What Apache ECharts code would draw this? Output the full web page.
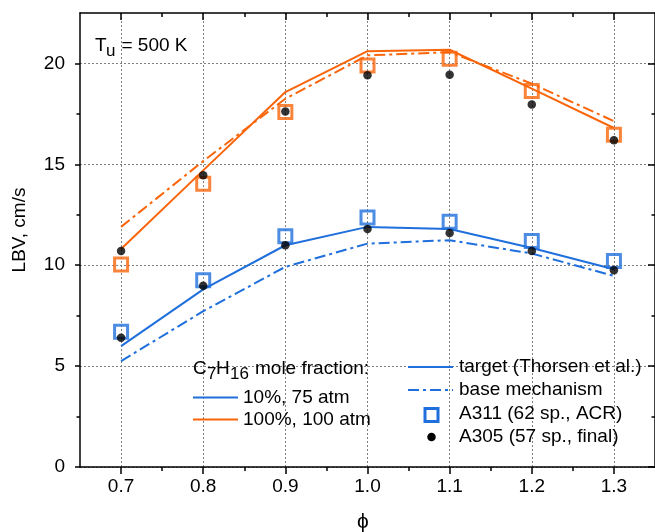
<!DOCTYPE html>
<html><head><meta charset="utf-8">
<script src="https://cdn.jsdelivr.net/npm/echarts@6/dist/echarts.min.js"></script>
<style>html,body{margin:0;padding:0;background:#fff}#c{width:655px;height:532px}</style>
</head><body><div id="c"></div>
<script>
// ---- data ----
const phi = [0.7, 0.8, 0.9, 1.0, 1.1, 1.2, 1.3];
const xTicks = [0.7, 0.8, 0.9, 1.0, 1.1, 1.2, 1.3];
const yTicks = [0, 5, 10, 15, 20];
const blueTarget   = [5.99, 8.80, 10.99, 11.90, 11.80, 10.85, 9.80];
const blueBase     = [5.25, 7.72, 9.92, 11.07, 11.24, 10.58, 9.47];
const blueA311     = [6.70, 9.26, 11.44, 12.36, 12.15, 11.20, 10.21];
const blueA305     = [6.40, 8.98, 10.99, 11.80, 11.60, 10.71, 9.75];
const orangeTarget = [10.80, 14.70, 18.58, 20.61, 20.68, 18.75, 16.80];
const orangeBase   = [11.90, 15.16, 18.25, 20.40, 20.56, 19.00, 17.14];
const orangeA311   = [10.03, 14.04, 17.59, 19.90, 20.23, 18.63, 16.47];
const orangeA305   = [10.71, 14.46, 17.62, 19.41, 19.44, 17.97, 16.19];

const BLUE = '#1F6FDC';
const ORANGE = '#FA650A';
const FONT = "'Liberation Sans', Arial, sans-serif";
const DASHDOT = [11, 4, 3, 4];

const pts = arr => phi.map((x, i) => [x, arr[i]]);
const axisLine = { show: true, onZero: false, lineStyle: { color: '#000', width: 1.5 } };
const tickLS = { color: '#000', width: 1.5 };
const xFmt = v => Math.abs(v * 10 - Math.round(v * 10)) < 1e-6 ? v.toFixed(1) : '';
const yFmt = v => (Math.abs(v / 5 - Math.round(v / 5)) < 1e-6 ? String(v) : '');

function lineSeries(name, arr, color, type) {
  return { name, type: 'line', data: pts(arr), symbol: 'none', showSymbol: false, z: 2,
    lineStyle: { color, width: 2, type }, itemStyle: { color }, animation: false };
}
function squareSeries(name, arr, color) {
  return { name, type: 'scatter', data: pts(arr), symbol: 'rect', symbolSize: 13, z: 3,
    itemStyle: { color: 'rgba(0,0,0,0)', borderColor: color, borderWidth: 3 }, animation: false };
}
function dotSeries(name, arr) {
  return { name, type: 'scatter', data: pts(arr), symbol: 'circle', symbolSize: 8.5, z: 4,
    itemStyle: { color: '#000' }, animation: false };
}

function txt(text, x, y, size, extra) {
  return Object.assign({ type: 'text', x, y, z: 100, style: {
    text, fill: '#000', font: size + 'px ' + FONT, fontSize: size, fontFamily: FONT,
    align: 'left', verticalAlign: 'middle', textAlign: 'left', textVerticalAlign: 'middle' } }, extra || {});
}
function seg(x1, x2, y, color, dash) {
  return { type: 'line', z: 100, shape: { x1, y1: y, x2, y2: y },
    style: { stroke: color, lineWidth: 2, lineDash: dash || null } };
}

const chart = echarts.init(document.getElementById('c'), null, { renderer: 'canvas' });
chart.setOption({
  animation: false,
  backgroundColor: '#fff',
  grid: { left: 80, top: 13, width: 576, height: 454, containLabel: false },
  xAxis: [
    { type: 'value', min: 0.65, max: 1.35, position: 'bottom', axisLine,
      axisTick: { show: true, inside: false, length: 7, customValues: xTicks, lineStyle: tickLS },
      minorTick: { show: true, splitNumber: 2, length: 4, lineStyle: tickLS },
      axisLabel: { customValues: xTicks, formatter: xFmt, fontSize: 19, color: '#000', fontFamily: FONT, margin: 10 },
      splitLine: { show: true, lineStyle: { color: '#808080', type: [2, 2], width: 1 } } },
    { type: 'value', min: 0.65, max: 1.35, position: 'top', axisLine,
      axisTick: { show: true, inside: true, length: 7, customValues: xTicks, lineStyle: tickLS },
      minorTick: { show: true, splitNumber: 2, length: 4, lineStyle: tickLS },
      axisLabel: { show: false }, splitLine: { show: false } }
  ],
  yAxis: [
    { type: 'value', min: 0, max: 22.5, interval: 5, position: 'left', axisLine,
      axisTick: { show: true, inside: false, length: 5, customValues: yTicks, lineStyle: tickLS },
      minorTick: { show: true, splitNumber: 2, length: 3.5, lineStyle: tickLS },
      axisLabel: { customValues: yTicks, formatter: yFmt, fontSize: 19, color: '#000', fontFamily: FONT, margin: 15 },
      splitLine: { show: true, lineStyle: { color: '#808080', type: [2, 2], width: 1 } } },
    { type: 'value', min: 0, max: 22.5, interval: 5, position: 'right', axisLine,
      axisTick: { show: true, inside: true, length: 7, customValues: yTicks, lineStyle: tickLS },
      minorTick: { show: true, splitNumber: 2, length: 3.5, lineStyle: tickLS },
      axisLabel: { show: false }, splitLine: { show: false } }
  ],
  series: [
    lineSeries('target (Thorsen et al.) 10%', blueTarget, BLUE, 'solid'),
    lineSeries('base mechanism 10%', blueBase, BLUE, DASHDOT),
    lineSeries('target (Thorsen et al.) 100%', orangeTarget, ORANGE, 'solid'),
    lineSeries('base mechanism 100%', orangeBase, ORANGE, DASHDOT),
    squareSeries('A311 (62 sp., ACR) 10%', blueA311, BLUE),
    squareSeries('A311 (62 sp., ACR) 100%', orangeA311, ORANGE),
    dotSeries('A305 (57 sp., final) 10%', blueA305),
    dotSeries('A305 (57 sp., final) 100%', orangeA305)
  ],
  graphic: { elements: [
    // annotation T_u = 500 K
    txt('T', 95, 46, 19),
    txt('u', 106, 51.5, 17),
    txt('= 500 K', 121.5, 46, 19),
    // axis titles
    { type: 'text', x: 20, y: 230, rotation: Math.PI / 2, z: 100, style: {
      text: 'LBV, cm/s', fill: '#000', font: '19px ' + FONT, fontSize: 19, fontFamily: FONT,
      align: 'center', verticalAlign: 'middle', textAlign: 'center', textVerticalAlign: 'middle' } },
    { type: 'text', x: 363, y: 522, z: 100, style: {
      text: 'ϕ', fill: '#000', font: '21px ' + FONT, fontSize: 21, fontFamily: FONT,
      align: 'center', verticalAlign: 'middle', textAlign: 'center', textVerticalAlign: 'middle' } },
    // left legend block
    txt('C', 193, 369, 19),
    txt('7', 207, 374, 17),
    txt('H', 216, 369, 19),
    txt('16', 230, 374, 17),
    txt('mole fraction:', 255, 369, 19),
    seg(193, 238, 397.5, BLUE),
    txt('10%, 75 atm', 243, 398, 19),
    seg(193, 238, 419.5, ORANGE),
    txt('100%, 100 atm', 243, 420, 19),
    // right legend block
    seg(408, 453, 367, BLUE),
    txt('target (Thorsen et al.)', 459, 367, 19),
    seg(408, 453, 390, BLUE, DASHDOT),
    txt('base mechanism', 459, 390, 19),
    { type: 'rect', z: 100, shape: { x: 425, y: 408.5, width: 13, height: 13 },
      style: { fill: 'none', stroke: BLUE, lineWidth: 3 } },
    txt('A311 (62 sp., ACR)', 459, 414, 19),
    { type: 'circle', z: 100, shape: { cx: 431.5, cy: 437, r: 4.25 }, style: { fill: '#000' } },
    txt('A305 (57 sp., final)', 459, 437, 19)
  ] }
});
</script></body></html>
